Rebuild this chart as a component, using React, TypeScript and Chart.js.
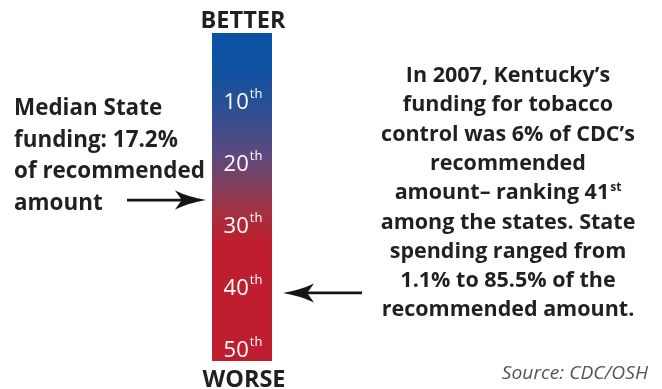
import React, { useEffect, useRef } from "react";
import { Chart, registerables } from "chart.js";

Chart.register(...registerables);

// Data
const categories = ["State ranking"];
const scaleRange: [number, number] = [-1, 52]; // best (top) .. worst (bottom) extent of the ranking bar
const rankTicks = [10, 20, 30, 40, 50];
const medianRank = 26;
const kentuckyRank = 41;
const topLabel = "BETTER";
const bottomLabel = "WORSE";
const leftNote = ["Median State", "funding: 17.2%", "of recommended", "amount"];
const rightNote = [
  "In 2007, Kentucky\u2019s",
  "funding for tobacco",
  "control was 6% of CDC\u2019s",
  "recommended",
  "amount\u2013 ranking 41|st",
  "among the states. State",
  "spending ranged from",
  "1.1% to 85.5% of the",
  "recommended amount.",
];
const sourceText = "Source: CDC/OSH";

const W = 662;
const H = 389;
const DARK = "#231f20";
const FONT = "'Open Sans', 'DejaVu Sans', sans-serif";

function drawArrow(ctx: CanvasRenderingContext2D, x1: number, x2: number, y: number) {
  // tail at x1, tip at x2
  const d = x2 > x1 ? 1 : -1;
  const L = 31;
  const h = 9.5;
  ctx.save();
  ctx.strokeStyle = "#151515";
  ctx.fillStyle = "#151515";
  ctx.lineWidth = 2.6;
  ctx.beginPath();
  ctx.moveTo(x1, y);
  ctx.lineTo(x2 - d * L * 0.7, y);
  ctx.stroke();
  ctx.beginPath();
  ctx.moveTo(x2, y);
  ctx.quadraticCurveTo(x2 - d * L * 0.55, y - h * 0.3, x2 - d * L, y - h);
  ctx.lineTo(x2 - d * L * 0.78, y);
  ctx.lineTo(x2 - d * L, y + h);
  ctx.quadraticCurveTo(x2 - d * L * 0.55, y + h * 0.3, x2, y);
  ctx.closePath();
  ctx.fill();
  ctx.restore();
}

function scaledText(ctx: CanvasRenderingContext2D, t: string, x: number, y: number, sx: number) {
  ctx.save();
  ctx.translate(x, y);
  ctx.scale(sx, 1);
  ctx.fillText(t, 0, 0);
  ctx.restore();
}

const overlay = {
  id: "overlay",
  afterDatasetsDraw(chart: any) {
    const ctx: CanvasRenderingContext2D = chart.ctx;
    const area = chart.chartArea;
    const yS = chart.scales.y;
    const cx = (area.left + area.right) / 2;

    ctx.save();
    ctx.textBaseline = "alphabetic";
    // rank tick labels inside the bar
    for (const r of rankTicks) {
      const y = yS.getPixelForValue(r);
      ctx.font = `400 22px ${FONT}`;
      const main = String(r);
      const mw = ctx.measureText(main).width;
      ctx.font = `400 13px ${FONT}`;
      const sw = ctx.measureText("th").width;
      const x0 = cx + 1 - (mw + sw + 1) / 2;
      ctx.fillStyle = "#ffffff";
      ctx.textAlign = "left";
      ctx.font = `400 22px ${FONT}`;
      ctx.fillText(main, x0, y + 8);
      ctx.font = `400 13px ${FONT}`;
      ctx.fillText("th", x0 + mw + 1, y - 3);
    }

    // BETTER / WORSE
    ctx.fillStyle = DARK;
    ctx.textAlign = "center";
    ctx.font = `700 23.5px ${FONT}`;
    ctx.fillText(topLabel, cx + 1, area.top - 5);
    ctx.fillText(bottomLabel, cx + 2, area.bottom + 26);

    // Left note
    ctx.textAlign = "left";
    ctx.font = `700 23px ${FONT}`;
    const leftBase = [115, 147, 178, 210];
    leftNote.forEach((t, i) => scaledText(ctx, t, 14, leftBase[i], 0.975));

    // Right note (centered)
    const rc = 508;
    const sx = 1.0;
    const fs = 21.5;
    rightNote.forEach((t, i) => {
      const y = 82 + i * 29.3;
      const parts = t.split("|");
      ctx.font = `700 ${fs}px ${FONT}`;
      const w1 = ctx.measureText(parts[0]).width;
      let w2 = 0;
      if (parts[1]) {
        ctx.font = `700 12px ${FONT}`;
        w2 = ctx.measureText(parts[1]).width + 1;
      }
      const total = (w1 + w2) * sx;
      ctx.save();
      ctx.translate(rc - total / 2, y);
      ctx.scale(sx, 1);
      ctx.textAlign = "left";
      ctx.font = `700 ${fs}px ${FONT}`;
      ctx.fillText(parts[0], 0, 0);
      if (parts[1]) {
        ctx.font = `700 12px ${FONT}`;
        ctx.fillText(parts[1], w1 + 1, -8);
      }
      ctx.restore();
    });

    // Source
    ctx.fillStyle = "#555";
    ctx.textAlign = "right";
    ctx.font = `italic 400 18.5px ${FONT}`;
    ctx.save();
    ctx.translate(648, 379);
    ctx.scale(1.04, 1);
    ctx.fillText(sourceText, 0, 0);
    ctx.restore();

    // Arrows
    drawArrow(ctx, area.left - 85, area.left - 6, yS.getPixelForValue(medianRank));
    drawArrow(ctx, area.right + 90, area.right + 11, yS.getPixelForValue(kentuckyRank));
    ctx.restore();
  },
};

export default function App() {
  const ref = useRef<HTMLCanvasElement>(null);
  useEffect(() => {
    if (!ref.current) return;
    const chart = new Chart(ref.current, {
      type: "bar",
      data: {
        labels: categories,
        datasets: [
          {
            data: [scaleRange as any],
            borderWidth: 0,
            barPercentage: 1,
            categoryPercentage: 1,
            backgroundColor: (c: any) => {
              const ch = c.chart;
              const a = ch.chartArea;
              if (!a) return "#be1e2d";
              const g = ch.ctx.createLinearGradient(0, a.top, 0, a.bottom);
              g.addColorStop(0, "#0a52a3");
              g.addColorStop(0.12, "#0f51a1");
              g.addColorStop(0.22, "#2a4f95");
              g.addColorStop(0.36, "#594a80");
              g.addColorStop(0.46, "#7f405f");
              g.addColorStop(0.55, "#a6303f");
              g.addColorStop(0.64, "#be1e2d");
              g.addColorStop(1, "#be1e2d");
              return g;
            },
          },
        ],
      },
      options: {
        responsive: false,
        animation: false,
        devicePixelRatio: 1,
        layout: { padding: { left: 212, right: W - 272, top: 33, bottom: H - 361 } },
        plugins: { legend: { display: false }, tooltip: { enabled: false } },
        scales: {
          x: { display: false },
          y: { display: false, reverse: true, min: scaleRange[0], max: scaleRange[1] },
        },
      },
      plugins: [overlay],
    });
    return () => chart.destroy();
  }, []);
  return (
    <div style={{ position: "fixed", left: 0, top: 0, width: W, height: H, background: "#fff" }}>
      <canvas ref={ref} width={W} height={H} style={{ width: W, height: H }} />
    </div>
  );
}
